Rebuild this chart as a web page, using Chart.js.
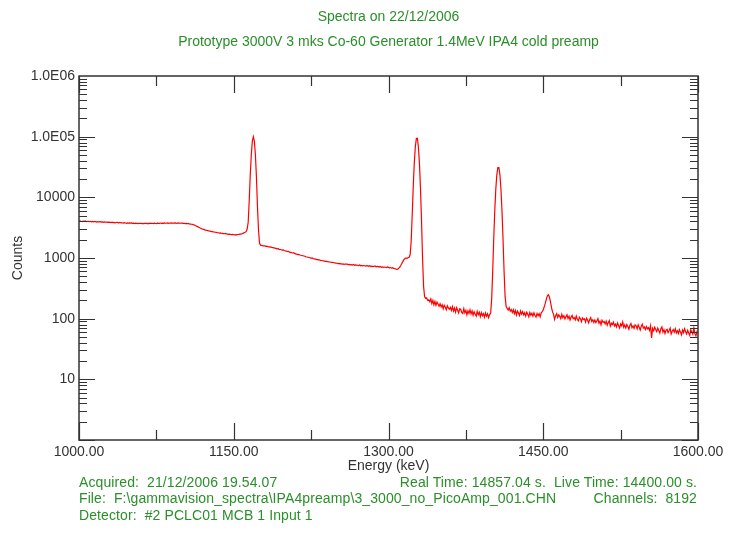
<!DOCTYPE html>
<html lang="en">
<head>
<meta charset="UTF-8">
<title>Spectra on 22/12/2006</title>
<script src="https://cdn.jsdelivr.net/npm/chart.js@4.4.0/dist/chart.umd.min.js"></script>
<style>
    body { margin: 0; background: #fff; }
    .wrap { position: relative; width: 755px; height: 544px; font-family: "Liberation Sans", Arial, sans-serif; }
    .wrap canvas { position: absolute; left: 0; top: 0; }
    .txt { position: absolute; font-size: 14px; line-height: 16px; color: #2a8f2a; white-space: pre; }
    .foot { letter-spacing: 0.1px; }
    .center { left: 0; width: 777px; text-align: center; }
</style>
</head>
<body>
<div class="wrap">
    <canvas id="spec" width="755" height="544"></canvas>
    <div class="txt center" style="top:8px">Spectra on 22/12/2006</div>
    <div class="txt center" style="top:33px">Prototype 3000V 3 mks Co-60 Generator 1.4MeV IPA4 cold preamp</div>
    <div class="txt foot" style="left:79px; top:474px">Acquired:  21/12/2006 19.54.07</div>
    <div class="txt foot" style="right:58px; top:474px">Real Time: 14857.04 s.  Live Time: 14400.00 s.</div>
    <div class="txt foot" style="left:79px; top:490px">File:  F:\gammavision_spectra\IPA4preamp\3_3000_no_PicoAmp_001.CHN</div>
    <div class="txt foot" style="right:58px; top:490px">Channels:  8192</div>
    <div class="txt foot" style="left:79px; top:507px">Detector:  #2 PCLC01 MCB 1 Input 1</div>
</div>
<script>
// energy calibration of the listed channels (keV)
const energyStart = 1000;
const energyStep = 1;

// counts per step (1000 .. 1600 keV)
const counts = [
    4070, 4110, 4040, 3990, 4060, 4020, 4080, 3970, 4030, 4010,
    3990, 4030, 3960, 4010, 3940, 3990, 3970, 3920, 3980, 3950,
    3930, 3960, 3900, 3940, 3880, 3930, 3890, 3910, 3860, 3900,
    3870, 3840, 3900, 3830, 3860, 3810, 3850, 3880, 3800, 3840,
    3830, 3790, 3810, 3760, 3820, 3780, 3740, 3800, 3760, 3790,
    3750, 3790, 3720, 3760, 3700, 3750, 3730, 3690, 3740, 3710,
    3740, 3700, 3720, 3680, 3750, 3710, 3690, 3730, 3700, 3760,
    3710, 3740, 3690, 3750, 3720, 3700, 3760, 3730, 3710, 3770,
    3730, 3760, 3720, 3780, 3740, 3750, 3790, 3730, 3770, 3750,
    3780, 3740, 3770, 3790, 3750, 3730, 3780, 3760, 3740, 3770,
    3750, 3720, 3740, 3700, 3710, 3680, 3690, 3650, 3630, 3600,
    3580, 3530, 3480, 3400, 3350, 3290, 3220, 3150, 3100, 3040,
    2980, 2960, 2910, 2880, 2840, 2830, 2790, 2770, 2740, 2720,
    2700, 2680, 2660, 2640, 2620, 2610, 2580, 2600, 2560, 2550,
    2530, 2510, 2540, 2490, 2480, 2460, 2470, 2440, 2430, 2450,
    2420, 2400, 2430, 2410, 2440, 2450, 2480, 2470, 2510, 2550,
    2600, 2650, 2720, 3000, 3900, 8800, 23600, 50000, 84000, 100000,
    84000, 50000, 21500, 7000, 2900, 1750, 1630, 1610, 1600, 1580,
    1590, 1560, 1570, 1540, 1530, 1510, 1520, 1490, 1480, 1470,
    1450, 1440, 1420, 1430, 1390, 1380, 1370, 1350, 1360, 1330,
    1310, 1300, 1280, 1290, 1250, 1240, 1230, 1210, 1220, 1190,
    1170, 1160, 1140, 1150, 1120, 1110, 1100, 1090, 1080, 1070,
    1050, 1040, 1030, 1020, 1010, 990, 1000, 980, 970, 960,
    950, 940, 930, 935, 915, 910, 900, 895, 890, 880,
    880, 870, 865, 860, 850, 845, 850, 835, 830, 825,
    820, 810, 815, 800, 805, 790, 800, 785, 795, 790,
    790, 780, 785, 770, 775, 765, 780, 760, 770, 765,
    760, 750, 765, 745, 755, 740, 750, 745, 735, 750,
    740, 730, 745, 725, 735, 720, 730, 740, 715, 725,
    720, 710, 725, 705, 715, 700, 710, 705, 695, 710,
    700, 690, 695, 680, 690, 675, 670, 660, 650, 655,
    680, 710, 760, 820, 880, 940, 980, 1000, 990, 1010,
    1030, 1140, 1900, 5200, 15300, 37000, 68000, 93000, 94000, 67000,
    36000, 14000, 4200, 1000, 340, 230, 215, 220, 200, 205,
    190, 212, 178, 200, 170, 192, 166, 188, 175, 160,
    176, 156, 170, 146, 166, 155, 140, 163, 150, 143,
    154, 137, 158, 133, 149, 128, 152, 138, 124, 146,
    142, 127, 122, 146, 125, 137, 116, 134, 122, 140,
    120, 134, 114, 130, 119, 110, 132, 116, 128, 108,
    126, 112, 121, 106, 124, 110, 120, 104, 117, 123,
    212, 600, 2060, 6000, 13600, 23500, 31000, 31000, 23500, 13600,
    6000, 2080, 620, 235, 160, 148, 139, 152, 133, 141,
    126, 140, 121, 136, 115, 133, 124, 113, 134, 119,
    130, 115, 125, 110, 128, 118, 107, 126, 114, 123,
    110, 125, 113, 106, 122, 112, 121, 107, 124, 131,
    140, 158, 180, 210, 238, 248, 228, 190, 152, 130,
    118, 97, 112, 121, 105, 116, 109, 100, 118, 104,
    112, 99, 108, 116, 101, 110, 95, 106, 113, 100,
    104, 95, 110, 98, 92, 106, 100, 89, 103, 97,
    99, 88, 102, 94, 85, 97, 104, 90, 96, 87,
    95, 86, 92, 100, 84, 91, 79, 94, 87, 90,
    82, 91, 78, 86, 93, 75, 84, 80, 88, 76,
    81, 73, 85, 77, 70, 82, 76, 88, 72, 79,
    70, 80, 74, 67, 78, 83, 71, 76, 69, 79,
    76, 68, 79, 72, 65, 75, 81, 70, 73, 66,
    74, 68, 71, 64, 76, 48, 69, 63, 72, 66,
    61, 70, 64, 58, 68, 73, 60, 66, 57, 65,
    67, 59, 64, 70, 56, 62, 66, 60, 68, 58,
    63, 57, 66, 60, 54, 65, 59, 68, 61, 56,
    64, 58, 53, 66, 60, 55, 70, 57, 52, 61,
    58
];

// axis ticks
const xTickValues = [1000, 1150, 1300, 1450, 1600];
const xMinorValues = [1075, 1225, 1375, 1525];
const yTickValues = [10, 100, 1000, 10000, 100000, 1000000];
const yTickLabels = ['10', '100', '1000', '10000', '1.0E05', '1.0E06'];

const axisColor = '#333';

// box round the plot + inward tick marks on all four sides
const frameTicks = {
    id: 'frameTicks',
    afterDraw(chart) {
        const ctx = chart.ctx;
        const { left, right, top, bottom } = chart.chartArea;
        const xs = chart.scales.x, ys = chart.scales.y;
        ctx.save();
        ctx.strokeStyle = axisColor;
        ctx.lineWidth = 1.5;
        ctx.strokeRect(left, top, right - left, bottom - top);
        ctx.lineWidth = 1.2;
        ctx.beginPath();
        // y: decades long, 2..9 short
        for (let d = 1; d < 1e6; d *= 10) {
            for (let k = 1; k <= 9; k++) {
                const v = d * k;
                const py = Math.round(ys.getPixelForValue(v)) + 0.5;
                const len = k === 1 ? 16 : 8;
                ctx.moveTo(left, py); ctx.lineTo(left + len, py);
                ctx.moveTo(right, py); ctx.lineTo(right - len, py);
            }
        }
        xTickValues.forEach(v => {
            const px = Math.round(xs.getPixelForValue(v)) + 0.5;
            ctx.moveTo(px, bottom); ctx.lineTo(px, bottom - 17);
            ctx.moveTo(px, top); ctx.lineTo(px, top + 17);
        });
        xMinorValues.forEach(v => {
            const px = Math.round(xs.getPixelForValue(v)) + 0.5;
            ctx.moveTo(px, bottom); ctx.lineTo(px, bottom - 10);
            ctx.moveTo(px, top); ctx.lineTo(px, top + 10);
        });
        ctx.stroke();
        ctx.restore();
    }
};

const points = counts.map((c, i) => ({ x: energyStart + i * energyStep, y: c }));

new Chart(document.getElementById('spec'), {
    type: 'line',
    data: {
        datasets: [{
            data: points,
            borderColor: '#ff0000',
            borderWidth: 1.2,
            pointRadius: 0,
            tension: 0
        }]
    },
    options: {
        responsive: false,
        animation: false,
        layout: { padding: { left: 0, right: 57, top: 76, bottom: 64 } },
        plugins: { legend: { display: false }, tooltip: { enabled: false } },
        scales: {
            x: {
                type: 'linear',
                min: 1000, max: 1600,
                afterBuildTicks: s => { s.ticks = xTickValues.map(v => ({ value: v })); },
                afterFit: s => { s.height = 40; },
                grid: { display: false, drawTicks: false },
                border: { display: false },
                ticks: {
                    padding: 4,
                    color: axisColor,
                    font: { family: 'Liberation Sans', size: 14 },
                    maxRotation: 0,
                    autoSkip: false,
                    callback: v => v.toFixed(2)
                },
                title: {
                    display: true,
                    text: 'Energy (keV)',
                    color: axisColor,
                    font: { family: 'Liberation Sans', size: 14 },
                    padding: { top: 0, bottom: 5 }
                }
            },
            y: {
                type: 'logarithmic',
                min: 1, max: 1000000,
                afterBuildTicks: s => { s.ticks = yTickValues.map(v => ({ value: v })); },
                afterFit: s => { s.width = 79; },
                grid: { display: false, drawTicks: false },
                border: { display: false },
                ticks: {
                    padding: 4,
                    color: axisColor,
                    font: { family: 'Liberation Sans', size: 14 },
                    autoSkip: false,
                    callback: (v) => {
                        const i = yTickValues.indexOf(v);
                        return i >= 0 ? yTickLabels[i] : '';
                    }
                },
                title: {
                    display: true,
                    text: 'Counts',
                    color: axisColor,
                    font: { family: 'Liberation Sans', size: 14 },
                    padding: { top: 10, bottom: 0 }
                }
            }
        }
    },
    plugins: [frameTicks]
});
</script>
</body>
</html>
